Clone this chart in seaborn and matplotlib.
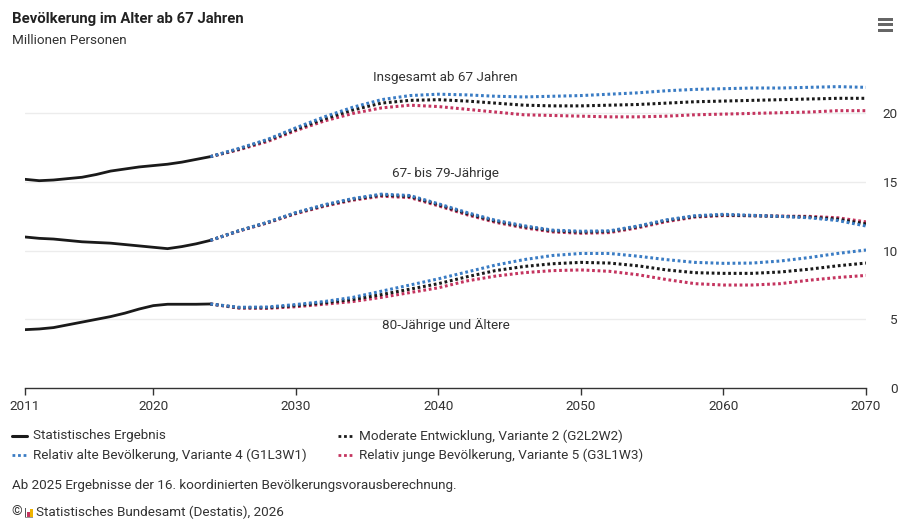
import numpy as np
import pandas as pd
import seaborn as sns
import matplotlib.pyplot as plt
from matplotlib.lines import Line2D
from matplotlib.patches import Rectangle

# Daten (Millionen Personen)
jahre_hist = list(range(2011, 2025))
hist_gesamt = [15.2, 15.1, 15.15, 15.25, 15.35, 15.55, 15.8, 15.95, 16.1, 16.2, 16.3, 16.45, 16.65, 16.85]
hist_6779 = [11.0, 10.9, 10.85, 10.75, 10.65, 10.6, 10.55, 10.45, 10.35, 10.25, 10.15, 10.3, 10.5, 10.75]
hist_80 = [4.25, 4.3, 4.4, 4.6, 4.8, 5.0, 5.2, 5.45, 5.75, 6.0, 6.1, 6.1, 6.1, 6.12]

jahre_proj = [2024, 2026, 2028, 2030, 2032, 2034, 2036, 2038, 2040, 2042, 2044, 2046,
              2048, 2050, 2052, 2054, 2056, 2058, 2060, 2062, 2064, 2066, 2068, 2070]

# Insgesamt ab 67
g2_gesamt = [16.85, 17.4, 18.05, 18.85, 19.6, 20.25, 20.75, 20.95, 21.0, 20.9, 20.75, 20.6,
             20.55, 20.55, 20.6, 20.65, 20.75, 20.85, 20.9, 20.95, 21.0, 21.05, 21.1, 21.1]
g1_gesamt = [16.85, 17.45, 18.1, 18.95, 19.75, 20.45, 21.0, 21.3, 21.4, 21.35, 21.25, 21.2,
             21.25, 21.3, 21.4, 21.5, 21.65, 21.75, 21.8, 21.85, 21.85, 21.9, 21.95, 21.9]
g3_gesamt = [16.85, 17.35, 17.95, 18.75, 19.45, 20.0, 20.4, 20.6, 20.5, 20.3, 20.1, 19.9,
             19.85, 19.8, 19.75, 19.75, 19.8, 19.9, 19.95, 20.0, 20.05, 20.1, 20.2, 20.2]

# 67- bis 79-Jaehrige
g2_6779 = [10.75, 11.45, 12.05, 12.75, 13.3, 13.75, 14.05, 13.95, 13.35, 12.7, 12.15, 11.75,
           11.45, 11.35, 11.4, 11.75, 12.2, 12.5, 12.6, 12.55, 12.5, 12.45, 12.3, 11.95]
g1_6779 = [10.75, 11.45, 12.07, 12.78, 13.35, 13.8, 14.12, 14.02, 13.42, 12.78, 12.22, 11.82,
           11.5, 11.42, 11.45, 11.8, 12.25, 12.55, 12.65, 12.58, 12.5, 12.4, 12.2, 11.8]
g3_6779 = [10.75, 11.43, 12.02, 12.7, 13.24, 13.68, 13.97, 13.87, 13.27, 12.62, 12.07, 11.67,
           11.37, 11.27, 11.32, 11.67, 12.12, 12.45, 12.56, 12.55, 12.52, 12.5, 12.4, 12.1]

# 80-Jaehrige und Aeltere
g2_80 = [6.12, 5.85, 5.85, 6.0, 6.2, 6.45, 6.8, 7.2, 7.6, 8.1, 8.55, 8.85,
         9.05, 9.15, 9.1, 8.9, 8.6, 8.4, 8.35, 8.35, 8.45, 8.65, 8.9, 9.1]
g1_80 = [6.12, 5.88, 5.9, 6.08, 6.3, 6.6, 7.05, 7.5, 7.95, 8.45, 8.95, 9.35,
         9.65, 9.8, 9.8, 9.6, 9.35, 9.15, 9.08, 9.1, 9.25, 9.5, 9.8, 10.05]
g3_80 = [6.12, 5.82, 5.8, 5.92, 6.1, 6.3, 6.6, 6.95, 7.3, 7.8, 8.15, 8.4,
         8.55, 8.6, 8.5, 8.25, 7.9, 7.6, 7.5, 7.5, 7.6, 7.85, 8.05, 8.2]

gruppen = ["Insgesamt ab 67 Jahren", "67- bis 79-Jährige", "80-Jährige und Ältere"]
varianten = ["Relativ junge Bevölkerung, Variante 5 (G3L1W3)",
             "Moderate Entwicklung, Variante 2 (G2L2W2)",
             "Relativ alte Bevölkerung, Variante 4 (G1L3W1)"]
farben = {varianten[0]: "#c4345f", varianten[1]: "#1a1a1a", varianten[2]: "#3a7cc4"}

df_hist = pd.concat([
    pd.DataFrame({"Jahr": jahre_hist, "Wert": w, "Gruppe": g})
    for g, w in zip(gruppen, [hist_gesamt, hist_6779, hist_80])
])
proj = {
    varianten[0]: [g3_gesamt, g3_6779, g3_80],
    varianten[1]: [g2_gesamt, g2_6779, g2_80],
    varianten[2]: [g1_gesamt, g1_6779, g1_80],
}
df_proj = pd.concat([
    pd.DataFrame({"Jahr": jahre_proj, "Wert": w, "Gruppe": g, "Variante": v})
    for v, reihen in proj.items() for g, w in zip(gruppen, reihen)
])

sns.set_theme(style="white")
plt.rcParams['font.family'] = ['Roboto', 'DejaVu Sans']
text_col = "#333333"
fs = 9.7

fig = plt.figure(figsize=(9.07, 5.30), dpi=100)
def fx(px): return px / 907
def fy(py): return 1 - py / 530

ax = fig.add_axes([fx(25), fy(388), (866 - 25) / 907, 329.5 / 530])

# Gitter
for v in [5, 10, 15, 20]:
    ax.axhline(v, color="#ececec", lw=1, zorder=0)

sns.lineplot(data=df_hist, x="Jahr", y="Wert", units="Gruppe", estimator=None,
             color="#1a1a1a", lw=2, ax=ax, legend=False)
n_vorher = len(ax.lines)
sns.lineplot(data=df_proj, x="Jahr", y="Wert", hue="Variante", units="Gruppe",
             estimator=None, palette=farben, hue_order=varianten,
             lw=2.2, ax=ax, legend=False)
# Vorausberechnung gepunktet
for ln in ax.lines[n_vorher:]:
    ln.set_linestyle((0, (0.9, 0.9)))
    ln.set_dash_capstyle("butt")

ax.set_xlim(2011, 2070)
ax.set_ylim(0, 24)
ax.set_xlabel("")
ax.set_ylabel("")
ax.set_xticks([2011, 2020, 2030, 2040, 2050, 2060, 2070])
ax.set_yticks([0, 5, 10, 15, 20])
ax.yaxis.tick_right()
ax.tick_params(axis="y", length=0, pad=23, labelsize=fs, labelcolor=text_col)
for lab in ax.get_yticklabels():
    lab.set_horizontalalignment("right")
ax.tick_params(axis="x", length=5, width=1, color="#333333", pad=4,
               labelsize=fs, labelcolor=text_col, bottom=True)
for s in ["top", "right", "left"]:
    ax.spines[s].set_visible(False)
ax.spines["bottom"].set_color("#333333")
ax.spines["bottom"].set_linewidth(1)

# Beschriftungen der Linien
ax.text(2040.5, 22.65, gruppen[0], ha="center", va="center", fontsize=fs, color=text_col)
ax.text(2040.5, 15.59, gruppen[1], ha="center", va="center", fontsize=fs, color=text_col)
ax.text(2040.5, 4.59, gruppen[2], ha="center", va="center", fontsize=fs, color=text_col)

# Titel
fig.text(fx(12), fy(19), "Bevölkerung im Alter ab 67 Jahren", fontsize=10.7,
         fontweight="bold", color="#222222", va="center")
fig.text(fx(12), fy(41), "Millionen Personen", fontsize=fs, color=text_col, va="center")

# Menue-Symbol
for yy in [18, 23.5, 29]:
    fig.add_artist(Rectangle((fx(878), fy(yy + 2.5)), 15 / 907, 2.5 / 530,
                             transform=fig.transFigure, color="#666666", lw=0))

# Legende
eintraege = [
    (12, 436, "#1a1a1a", "-", "Statistisches Ergebnis"),
    (12, 455, farben[varianten[2]], ":", varianten[2]),
    (338, 436, farben[varianten[1]], ":", varianten[1]),
    (338, 455, farben[varianten[0]], ":", varianten[0]),
]
for x0, y0, c, ls, txt in eintraege:
    if ls == "-":
        fig.add_artist(Line2D([fx(x0), fx(x0 + 15)], [fy(y0), fy(y0)], transform=fig.transFigure,
                              color=c, lw=2.2))
    else:
        fig.add_artist(Line2D([fx(x0), fx(x0 + 15)], [fy(y0), fy(y0)], transform=fig.transFigure,
                              color=c, lw=2, linestyle=(0, (1, 1)), dash_capstyle="butt"))
    fig.text(fx(x0 + 21), fy(y0), txt, fontsize=fs, color=text_col, va="center")

fig.text(fx(12), fy(486), "Ab 2025 Ergebnisse der 16. koordinierten Bevölkerungsvorausberechnung.",
         fontsize=fs, color=text_col, va="center")
fig.text(fx(11), fy(512), "©", fontsize=fs, color=text_col, va="center")
# kleines Logo
fig.add_artist(Rectangle((fx(24.5), fy(517)), 1.5 / 907, 9 / 530, transform=fig.transFigure,
                         color="#555555", lw=0))
fig.add_artist(Rectangle((fx(27), fy(517)), 2.5 / 907, 5 / 530, transform=fig.transFigure,
                         color="#c4345f", lw=0))
fig.add_artist(Rectangle((fx(30), fy(517)), 2.5 / 907, 8 / 530, transform=fig.transFigure,
                         color="#f0b400", lw=0))
fig.add_artist(Rectangle((fx(24.5), fy(517.5)), 8 / 907, 1 / 530, transform=fig.transFigure,
                         color="#999999", lw=0))
fig.text(fx(36), fy(512), "Statistisches Bundesamt (Destatis), 2026", fontsize=fs,
         color=text_col, va="center")

fig.savefig("out.png", dpi=100)
